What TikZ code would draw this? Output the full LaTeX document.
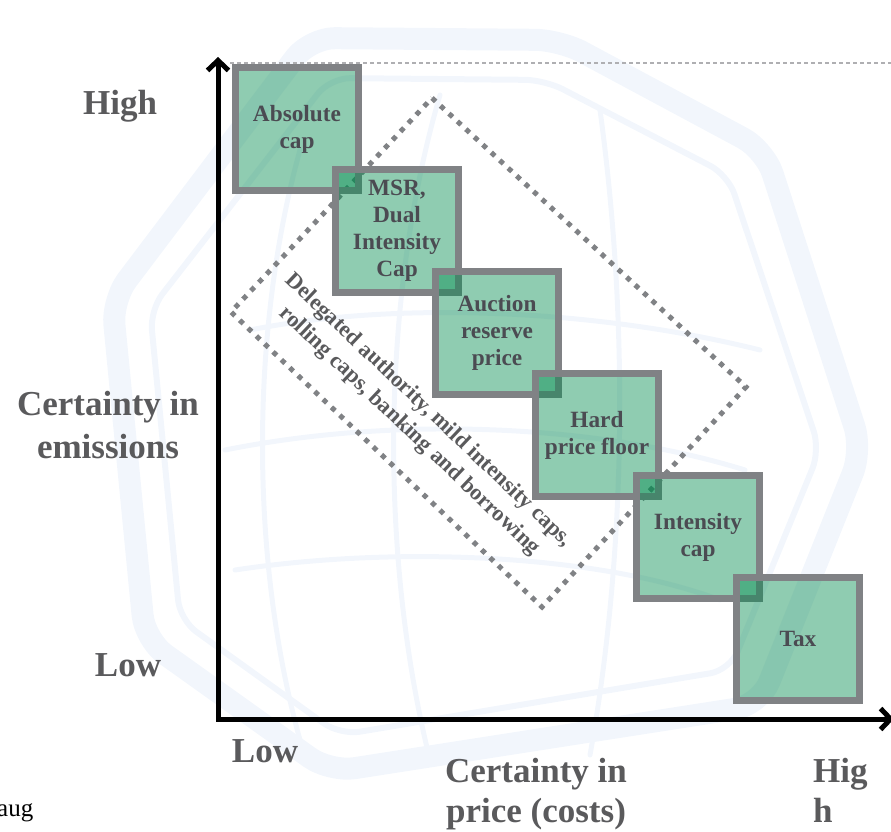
\documentclass[tikz,border=0pt]{standalone}
\usepackage{fontspec}
\setmainfont{Liberation Serif}
\usetikzlibrary{arrows.meta}
\definecolor{boxgray}{RGB}{128,130,133}
\definecolor{boxgreen}{RGB}{0,138,77}
\definecolor{labelgray}{RGB}{90,90,92}
\definecolor{txtgray}{RGB}{75,75,82}
\definecolor{wm}{RGB}{242,246,252}
\definecolor{dashgray}{RGB}{175,175,178}
\begin{document}
\begin{tikzpicture}[x=1pt,y=-1pt,
  boxnode/.style={draw=boxgray, line width=7pt, fill=boxgreen, fill opacity=0.44,
    text opacity=1, minimum width=123pt, minimum height=123pt, inner sep=0pt,
    align=center, text=txtgray, font=\fontsize{23.3}{27}\selectfont\bfseries},
  axislabel/.style={text=labelgray, font=\fontsize{35}{43}\selectfont\bfseries,
    inner sep=0pt, anchor=base},
  difftext/.style={text=labelgray, font=\fontsize{22.5}{28}\selectfont\bfseries,
    align=center, inner sep=0pt},
  axisline/.style={line width=5pt, black, line join=miter,
    {Straight Barb[length=10pt,width=21pt]}-{Straight Barb[length=10pt,width=21pt]}},
  watermark/.style={wm, line cap=round, line join=round},
  zone/.style={boxgray, line width=5pt, dash pattern=on 5pt off 6.5pt},
  topdash/.style={dashgray, line width=1.5pt, dash pattern=on 4pt off 3pt}]
\useasboundingbox (0,0) rectangle (891,832);
% faint globe watermark
\draw[watermark, line width=22pt, rounded corners=25pt]
  (310,38) -- (560,40) -- (765,150) -- (862,450) -- (760,705) -- (330,772)
  -- (145,640) -- (112,300) -- cycle;
\draw[watermark, line width=6pt, rounded corners=20pt]
  (330,78) -- (545,80) -- (728,175) -- (820,450) -- (730,670) -- (340,735)
  -- (180,620) -- (150,310) -- cycle;
\draw[watermark, line width=5pt] (225,450) .. controls (400,415) and (600,425) .. (745,470);
\draw[watermark, line width=5pt] (235,570) .. controls (400,545) and (600,555) .. (720,600);
\draw[watermark, line width=5pt] (250,330) .. controls (400,300) and (600,310) .. (760,350);
\draw[watermark, line width=5pt] (440,95) .. controls (380,300) and (380,560) .. (430,760);
\draw[watermark, line width=5pt] (600,110) .. controls (630,330) and (625,560) .. (590,755);
\draw[watermark, line width=5pt] (300,150) .. controls (250,330) and (250,560) .. (300,740);
% top dashed guide line
\coordinate (dashA) at (230,63);
\coordinate (dashB) at (891,63);
\draw[topdash] (dashA) -- (dashB);
% dotted zone
\coordinate (zt) at (432,98);
\coordinate (zr) at (746,387);
\coordinate (zb) at (542,607);
\coordinate (zl) at (231,312);
\draw[zone] (zt) -- (zr) -- (zb) -- (zl) -- cycle;
\node[difftext, rotate=-43.5] (zonetext) at (419,421)
  {Delegated authority, mild intensity caps,\\rolling caps, banking and borrowing};
% boxes
\node[boxnode] (abs) at (297,129) {Absolute\\cap};
\node[boxnode] (msr) at (397,231) {MSR,\\Dual\\Intensity\\Cap};
\node[boxnode] (arp) at (497,333) {Auction\\reserve\\price};
\node[boxnode] (hpf) at (597,435) {Hard\\price floor};
\node[boxnode] (int) at (698,537) {Intensity\\cap};
\node[boxnode] (tax) at (798,639) {Tax};
% axes
\coordinate (ytip) at (218,57);
\coordinate (origin) at (218,719);
\coordinate (xtip) at (894,719);
\draw[axisline] (ytip) -- (origin) -- (xtip);
% labels
\node[axislabel] (yhigh) at (120,114) {High};
\node[axislabel] (ylab1) at (108,415) {Certainty in};
\node[axislabel] (ylab2) at (108,458) {emissions};
\node[axislabel] (ylow) at (128,676) {Low};
\node[axislabel] (xlow) at (265,762) {Low};
\node[axislabel] (xlab1) at (536,782) {Certainty in};
\node[axislabel] (xlab2) at (536,822) {price (costs)};
\node[axislabel, anchor=base west] (xhigh1) at (813,782) {Hig};
\node[axislabel, anchor=base west] (xhigh2) at (813,822) {h};
\node[anchor=base west, inner sep=0pt, font=\fontsize{25}{30}\selectfont, text=black] (aug) at (-3,816) {aug};
\end{tikzpicture}
\end{document}
